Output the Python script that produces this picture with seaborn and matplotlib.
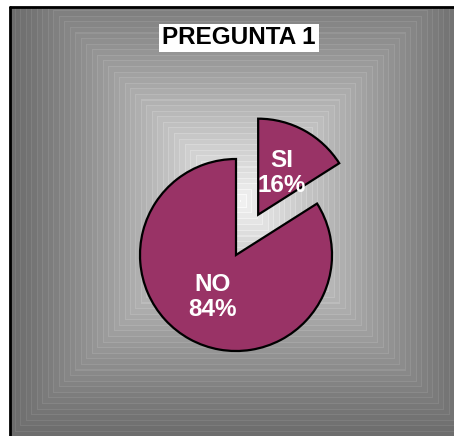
import numpy as np
import matplotlib
matplotlib.use("Agg")
import matplotlib.pyplot as plt
import seaborn as sns

# ---- data ----
categories = ["SI", "NO"]
values = [16, 84]
title = "PREGUNTA 1"
slice_color = "#993366"

sns.set_style("white")
plt.rcParams['font.family'] = ['Liberation Sans', 'DejaVu Sans']

W_PX, H_PX = 454, 436
fig = plt.figure(figsize=(W_PX / 100, H_PX / 100), dpi=100)
fig.patch.set_facecolor("white")

# ---- background: stepped concentric-square gray gradient ----
fx0, fy_top = 10, 7
fw, fh = W_PX - fx0, H_PX - fy_top
bg = fig.add_axes([fx0 / W_PX, 0, fw / W_PX, fh / H_PX])
yy, xx = np.mgrid[0:fh, 0:fw]
cx, cy = fw / 2 + 8, fh / 2 - 20
d = np.maximum(np.abs(xx - cx) / (fw / 2 + 8), np.abs(yy - cy) / (fh / 2 + 20))
d = np.clip(d, 0, 1)
N = 42
band = np.floor(d * N) / N
val = 0.42 + 0.52 * (1 - band) ** 1.2
line = (d * N) % 1 < 0.18
val = val + np.where(line, 0.05, 0.0)
val = np.clip(val, 0, 1)
bg.imshow(val, cmap="gray", vmin=0, vmax=1, aspect="auto", interpolation="nearest",
          extent=(0, fw, fh, 0))
bg.set_xlim(0, fw)
bg.set_ylim(fh, 0)
bg.set_axis_off()
bg.plot([0, 0], [0, 1], transform=bg.transAxes, color="black", lw=2.0, clip_on=False)
bg.plot([0, 1], [1, 1], transform=bg.transAxes, color="black", lw=2.0, clip_on=False)

# ---- pie in pixel-like coordinates ----
ax = fig.add_axes([0, 0, 1, 1])
ax.patch.set_alpha(0)
lab_iter = iter(categories)
r = 96
ax.pie(values,
       center=(236, H_PX - 255),
       radius=r,
       explode=[46, 0],
       startangle=90,
       counterclock=False,
       colors=[slice_color, slice_color],
       wedgeprops=dict(edgecolor="black", linewidth=1.6),
       autopct=lambda p: f"{next(lab_iter)}\n{p:.0f}%",
       pctdistance=0.5,
       textprops=dict(color="white", fontweight="bold", fontsize=17.5, linespacing=1.1))
ax.set_xlim(0, W_PX)
ax.set_ylim(0, H_PX)
ax.set_aspect("equal")
ax.set_axis_off()

ax.text(239, H_PX - 38, title, ha="center", va="center", fontsize=17.5,
        fontweight="bold", color="black",
        bbox=dict(boxstyle="square,pad=0.12", facecolor="white", edgecolor="none"))

fig.savefig("out.png", dpi=100)
